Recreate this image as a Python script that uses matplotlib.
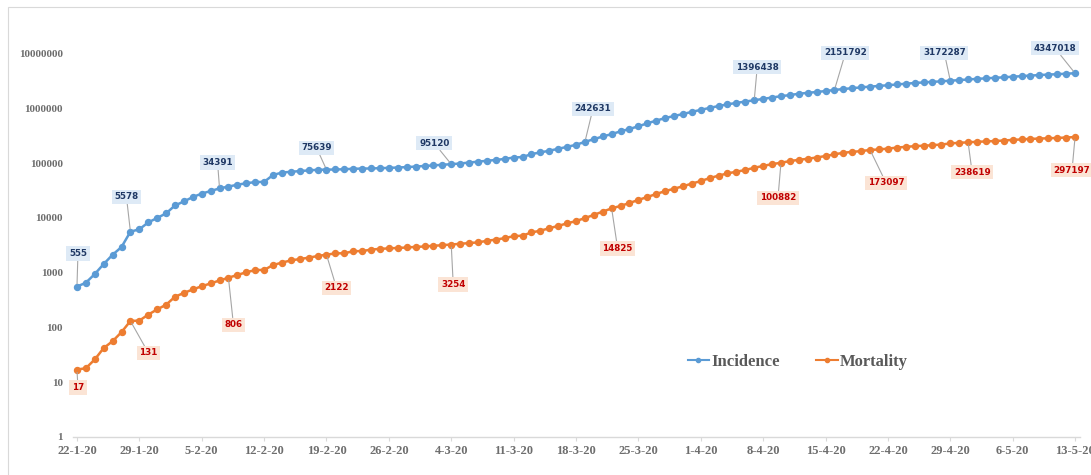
import matplotlib
matplotlib.use("Agg")
import matplotlib.pyplot as plt
import pandas as pd
from matplotlib.patches import Rectangle

dates = pd.date_range("2020-01-22", "2020-05-13", freq="D")

incidence = [
    555, 654, 941, 1434, 2118, 2927, 5578, 6166, 8234, 9927,
    12038, 16787, 19887, 23898, 27643, 30802, 34391, 37120, 40150, 42762,
    44802, 45221, 60368, 66885, 69030, 71224, 73258, 75136, 75639, 76197,
    76819, 78572, 78958, 79561, 80406, 81388, 82746, 84112, 86011,
    88369, 90306, 92840, 95120, 97886, 101801, 105847, 109821, 113590, 118620,
    125875, 128352, 145205, 156101, 167454, 181574, 197102, 214821, 242631, 272208,
    304507, 336953, 378235, 418045, 467653, 529591, 593291, 660706, 720117, 782365,
    857487,
    932605, 1013466, 1095917, 1176060, 1249754, 1321481, 1396438, 1479804, 1565278, 1657526,
    1735650, 1834721, 1904838, 1976191, 2056054, 2151792, 2240190, 2317758, 2401378, 2472258,
    2549123, 2624074, 2708885, 2795729, 2881140, 2955033, 3023722, 3097229, 3172287, 3256846,
    3343777, 3427584, 3506729, 3583055, 3662691, 3755341, 3845718, 3938064, 4024009, 4101699,
    4177502, 4261747, 4347018,
]

mortality = [
    17, 18, 26, 42, 56, 82, 131, 133, 171, 213,
    259, 362, 426, 492, 564, 634, 719, 806, 906, 1013,
    1113, 1118, 1371, 1523, 1666, 1770, 1868, 2007, 2122, 2247,
    2251, 2458, 2469, 2629, 2708, 2770, 2814, 2872, 2941,
    2996, 3085, 3160, 3254, 3348, 3460, 3558, 3803, 3996, 4262,
    4615, 4720, 5404, 5819, 6440, 7126, 7905, 8733, 9867, 11299,
    12973, 14825, 16497, 18615, 21181, 23970, 27198, 30652, 33925, 37582,
    42107,
    46809, 52983, 58787, 64606, 69374, 74565, 81865, 88338, 95455, 100882,
    108503, 114091, 119482, 125984, 134177, 143800, 153822, 159510, 165044, 173097,
    176583, 183027, 190858, 197159, 202846, 206544, 211167, 217153, 227638, 233388,
    238619, 243808, 247470, 251537, 257239, 263855, 269567, 274898, 279311, 282709,
    286330, 291942, 297197,
]

inc_label_days = [0, 6, 16, 28, 42, 57, 76, 85, 98, 112]
mort_label_days = [0, 6, 17, 28, 42, 60, 79, 89, 100, 112]

# label offsets in pixels (layout only)
inc_offsets = [(1, 33), (-4, 35), (-2, 26), (-10, 22), (-17, 21), (8, 33), (3, 33), (11, 37), (-6, 28), (-20, 25)]
mort_offsets = [(1, -18), (18, -32), (5, -47), (10, -33), (2, -40), (6, -40), (-3, -35), (16, -33), (4, -30), (-3, -33)]

x = list(range(len(dates)))
tick_pos = x[::7]
tick_labels = [f"{d.day}-{d.month}-20" for d in dates[::7]]

BLUE = "#5B9BD5"
ORANGE = "#ED7D31"
GRAY_TXT = "#6E6E6E"

fig = plt.figure(figsize=(10.91, 4.75), dpi=100)
fig.patch.set_facecolor("white")
fig.patches.append(Rectangle((8 / 1091, -0.1), 1.1, 1.1 - 7 / 475, transform=fig.transFigure,
                             fill=False, edgecolor="#D9D9D9", linewidth=0.8))

ax = fig.add_axes([72.5 / 1091, (475 - 437) / 475, 1007 / 1091, (437 - 53.4) / 475])
ax.set_yscale("log")
ax.set_ylim(1, 1e7)
ax.set_xlim(-0.5, len(dates) - 0.5)

ax.plot(x, incidence, color=BLUE, lw=1.8, marker="o", ms=4.3, label="Incidence")
ax.plot(x, mortality, color=ORANGE, lw=1.8, marker="o", ms=4.3, label="Mortality")

for s in ["top", "right", "left"]:
    ax.spines[s].set_visible(False)
ax.spines["bottom"].set_color("#D9D9D9")
ax.spines["bottom"].set_linewidth(1.0)

ax.set_yticks([10 ** k for k in range(8)])
ax.set_yticklabels([str(10 ** k) for k in range(8)])
ax.yaxis.set_minor_locator(matplotlib.ticker.NullLocator())
ax.tick_params(axis="y", length=0, pad=7, labelsize=8, labelcolor=GRAY_TXT)
ax.set_xticks(tick_pos)
ax.set_xticklabels(tick_labels)
ax.tick_params(axis="x", length=3, color="#D9D9D9", pad=3, labelsize=9, labelcolor=GRAY_TXT)
for lab in ax.get_xticklabels() + ax.get_yticklabels():
    lab.set_fontfamily("Liberation Serif")
    lab.set_fontweight("bold")

def annotate(days, values, offsets, tcolor, bcolor):
    for d, (dx, dy) in zip(days, offsets):
        v = values[d]
        ax.annotate(str(v), xy=(d, v), xytext=(dx, dy), textcoords="offset pixels",
                    ha="center", va="center", fontsize=6.3, fontweight="bold",
                    family="DejaVu Sans", color=tcolor,
                    bbox=dict(boxstyle="square,pad=0.3", fc=bcolor, ec="none"),
                    arrowprops=dict(arrowstyle="-", color="#A6A6A6", lw=0.8,
                                    shrinkA=0, shrinkB=2),
                    annotation_clip=False, zorder=5)

annotate(inc_label_days, incidence, inc_offsets, "#1F3864", "#DEEAF6")
annotate(mort_label_days, mortality, mort_offsets, "#C00000", "#FBE4D5")

leg = ax.legend(loc="center", bbox_to_anchor=(0.72, 0.196), ncol=2, frameon=False,
                handlelength=1.3, handletextpad=0.1, columnspacing=2.2,
                prop={"family": "Liberation Serif", "weight": "bold", "size": 12})
for t in leg.get_texts():
    t.set_color("#595959")
for h in leg.legend_handles:
    h.set_markersize(3)
    h.set_linewidth(1.5)

fig.savefig("out.png", dpi=100)
